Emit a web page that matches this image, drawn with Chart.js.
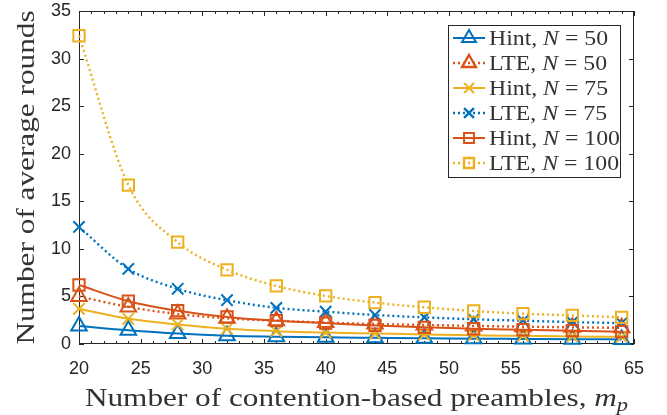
<!DOCTYPE html>
<html>
<head>
<meta charset="utf-8">
<script src="https://cdn.jsdelivr.net/npm/chart.js@4"></script>
<style>
  body { margin: 0; background: #fff; }
  canvas { display: block; }
</style>
</head>
<body>
<canvas id="chart" width="667" height="415"></canvas>
<script>
// x values: number of contention-based preambles
const xValues = [20, 24, 28, 32, 36, 40, 44, 48, 52, 56, 60, 64];

// average rounds per series
const hint50 = [1.9, 1.45, 1.1, 0.87, 0.77, 0.7, 0.65, 0.6, 0.56, 0.53, 0.5, 0.48];
const lte50 = [5.0, 3.9, 3.15, 2.7, 2.45, 2.25, 2.1, 2.0, 1.9, 1.82, 1.75, 1.7];
const hint75 = [3.7, 2.65, 2.05, 1.6, 1.35, 1.2, 1.1, 1.0, 0.92, 0.86, 0.8, 0.75];
const lte75 = [12.3, 7.9, 5.8, 4.6, 3.8, 3.4, 3.05, 2.8, 2.6, 2.45, 2.3, 2.2];
const hint100 = [6.2, 4.5, 3.5, 2.85, 2.45, 2.2, 1.95, 1.75, 1.6, 1.5, 1.4, 1.3];
const lte100 = [32.4, 16.7, 10.7, 7.8, 6.1, 5.05, 4.35, 3.86, 3.47, 3.19, 3.0, 2.8];

const seriesNames = ['Hint', 'LTE', 'Hint', 'LTE', 'Hint', 'LTE'];
const seriesN = ['50', '50', '75', '75', '100', '100'];

const xTicks = [20, 25, 30, 35, 40, 45, 50, 55, 60, 65];
const yTicks = [0, 5, 10, 15, 20, 25, 30, 35];

const BLUE = '#0072BD';
const RED = '#D95319';
const YELLOW = '#EDB120';
const AXIS = '#262626';
const TEXT = '#333333';
const SERIF = '"Liberation Serif", "DejaVu Serif", serif';
const SANS = '"Liberation Sans", Arial, sans-serif';

const styles = [
    { color: BLUE, dash: [], point: 'triangle', r: 9 },
    { color: RED, dash: [2, 3], point: 'triangle', r: 9 },
    { color: YELLOW, dash: [], point: 'crossRot', r: 8 },
    { color: BLUE, dash: [2, 3], point: 'crossRot', r: 8 },
    { color: RED, dash: [], point: 'rect', r: 8 },
    { color: YELLOW, dash: [2, 3], point: 'rect', r: 8 }
];

const allSeries = [hint50, lte50, hint75, lte75, hint100, lte100];

const datasets = allSeries.map((vals, i) => ({
    label: seriesNames[i] + ', N = ' + seriesN[i],
    data: xValues.map((x, j) => ({ x: x, y: vals[j] })),
    borderColor: styles[i].color,
    backgroundColor: 'rgba(0,0,0,0)',
    borderWidth: styles[i].dash.length ? 2.4 : 2,
    borderDash: styles[i].dash,
    tension: 0.4,
    cubicInterpolationMode: 'monotone',
    pointStyle: styles[i].point,
    pointRadius: styles[i].r,
    pointBorderWidth: 2,
    pointBorderColor: styles[i].color,
    pointBackgroundColor: 'rgba(0,0,0,0)',
    clip: false,
    order: -i
}));

// draw a run of text pieces with different fonts, returns end x
function drawPieces(ctx, pieces, x, y) {
    pieces.forEach(p => {
        ctx.font = p.font;
        ctx.fillText(p.text, x, y + (p.dy || 0));
        x += ctx.measureText(p.text).width;
    });
    return x;
}
function piecesWidth(ctx, pieces) {
    let w = 0;
    pieces.forEach(p => { ctx.font = p.font; w += ctx.measureText(p.text).width; });
    return w;
}

// the LaTeX font is wider than Times, so stretch the serif text a bit
const TITLE_STRETCH = 1.25;
const LEGEND_STRETCH = 1.08;

const matlabAxes = {
    id: 'matlabAxes',
    beforeDatasetsDraw(chart) {
        const { ctx, chartArea: a, scales } = chart;
        ctx.save();
        ctx.strokeStyle = AXIS;
        ctx.lineWidth = 1;
        ctx.strokeRect(a.left + 0.5, a.top + 0.5, a.right - a.left - 1, a.bottom - a.top - 1);
        ctx.beginPath();
        // minor x ticks every 1 unit, major every 5
        for (let v = 20; v <= 65; v++) {
            const px = Math.round(scales.x.getPixelForValue(v)) + 0.5;
            const len = (v % 5 === 0) ? 5 : 3;
            ctx.moveTo(px, a.bottom); ctx.lineTo(px, a.bottom - len);
            ctx.moveTo(px, a.top); ctx.lineTo(px, a.top + len);
        }
        yTicks.forEach(v => {
            const py = Math.round(scales.y.getPixelForValue(v)) + 0.5;
            ctx.moveTo(a.left, py); ctx.lineTo(a.left + 5, py);
            ctx.moveTo(a.right, py); ctx.lineTo(a.right - 5, py);
        });
        ctx.stroke();
        ctx.restore();
    },
    afterDraw(chart) {
        const { ctx, chartArea: a } = chart;
        ctx.save();
        ctx.fillStyle = TEXT;
        ctx.textBaseline = 'alphabetic';

        // x axis title
        const xt = [
            { text: 'Number of contention-based preambles, ', font: '25px ' + SERIF },
            { text: 'm', font: 'italic 25px ' + SERIF },
            { text: 'p', font: 'italic 18px ' + SERIF, dy: 5 }
        ];
        const xw = piecesWidth(ctx, xt) * TITLE_STRETCH;
        ctx.save();
        ctx.translate((a.left + a.right) / 2 - xw / 2, 406);
        ctx.scale(TITLE_STRETCH, 1);
        drawPieces(ctx, xt, 0, 0);
        ctx.restore();

        // y axis title
        ctx.font = '25px ' + SERIF;
        ctx.translate(34, (a.top + a.bottom) / 2);
        ctx.rotate(-Math.PI / 2);
        ctx.scale(TITLE_STRETCH, 1);
        ctx.textAlign = 'center';
        ctx.fillText('Number of average rounds', 0, 0);
        ctx.restore();

        // legend
        ctx.save();
        const bx = a.right - 186, by = a.top + 14, bw = 172, bh = 152;
        ctx.fillStyle = '#fff';
        ctx.fillRect(bx, by, bw, bh);
        ctx.strokeStyle = AXIS;
        ctx.lineWidth = 1;
        ctx.strokeRect(bx + 0.5, by + 0.5, bw, bh);
        chart.data.datasets.forEach((ds, i) => {
            const cy = by + 13 + i * 25;
            ctx.strokeStyle = ds.borderColor;
            ctx.lineWidth = ds.borderWidth;
            ctx.setLineDash(ds.borderDash);
            ctx.beginPath();
            ctx.moveTo(bx + 5, cy); ctx.lineTo(bx + 37, cy);
            ctx.stroke();
            ctx.setLineDash([]);
            ctx.fillStyle = 'rgba(0,0,0,0)';
            Chart.helpers.drawPoint(ctx, {
                pointStyle: ds.pointStyle, radius: ds.pointRadius - 1, rotation: 0, borderWidth: 2
            }, bx + 21, cy);
            ctx.fillStyle = TEXT;
            ctx.save();
            ctx.translate(bx + 41, cy + 7);
            ctx.scale(LEGEND_STRETCH, 1);
            drawPieces(ctx, [
                { text: seriesNames[i] + ', ', font: '22px ' + SERIF },
                { text: 'N', font: 'italic 22px ' + SERIF },
                { text: ' = ' + seriesN[i], font: '22px ' + SERIF }
            ], 0, 0);
            ctx.restore();
        });
        ctx.restore();
    }
};

new Chart(document.getElementById('chart'), {
    type: 'line',
    data: { datasets: datasets },
    options: {
        responsive: false,
        animation: false,
        layout: { padding: { top: 11, right: 33, left: 0, bottom: 0 } },
        plugins: { legend: { display: false }, tooltip: { enabled: false } },
        scales: {
            x: {
                type: 'linear', min: 20, max: 65,
                afterBuildTicks: s => { s.ticks = xTicks.map(v => ({ value: v })); },
                afterFit: s => { s.height = 71; s.paddingLeft = 0; s.paddingRight = 0; },
                grid: { display: false, drawTicks: false },
                border: { display: false },
                ticks: { padding: 14, color: AXIS, maxRotation: 0, autoSkip: false, font: { family: SANS, size: 18 } }
            },
            y: {
                min: 0, max: 35,
                afterBuildTicks: s => { s.ticks = yTicks.map(v => ({ value: v })); },
                afterFit: s => { s.width = 79; s.paddingTop = 0; s.paddingBottom = 0; },
                grid: { display: false, drawTicks: false },
                border: { display: false },
                ticks: { padding: 8, color: AXIS, font: { family: SANS, size: 18 } }
            }
        }
    },
    plugins: [matlabAxes]
});
</script>
</body>
</html>
